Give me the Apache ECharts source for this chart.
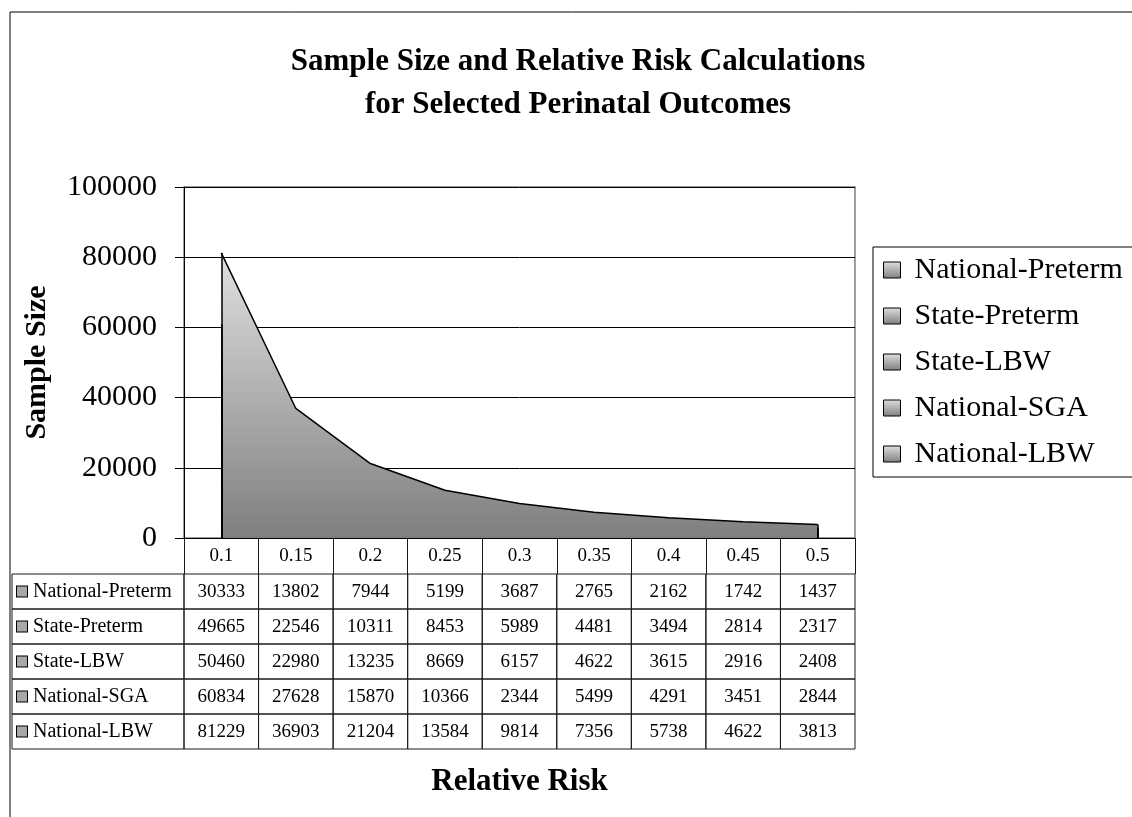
<!DOCTYPE html>
<html>
<head>
<meta charset="utf-8">
<title>Sample Size and Relative Risk Calculations</title>
<script src="https://cdn.jsdelivr.net/npm/echarts@6/dist/echarts.min.js"></script>
<style>
  html, body { margin: 0; padding: 0; background: #fff; }
  #chart { width: 1132px; height: 817px; }
</style>
</head>
<body>
<div id="chart"></div>
<script>
// Relative risk values (x categories)
const categories = ['0.1', '0.15', '0.2', '0.25', '0.3', '0.35', '0.4', '0.45', '0.5'];

// Required sample sizes per outcome
const nationalPreterm = [30333, 13802, 7944, 5199, 3687, 2765, 2162, 1742, 1437];
const statePreterm    = [49665, 22546, 10311, 8453, 5989, 4481, 3494, 2814, 2317];
const stateLBW        = [50460, 22980, 13235, 8669, 6157, 4622, 3615, 2916, 2408];
const nationalSGA     = [60834, 27628, 15870, 10366, 2344, 5499, 4291, 3451, 2844];
const nationalLBW     = [81229, 36903, 21204, 13584, 9814, 7356, 5738, 4622, 3813];

const seriesNames = ['National-Preterm', 'State-Preterm', 'State-LBW', 'National-SGA', 'National-LBW'];
const seriesValues = [nationalPreterm, statePreterm, stateLBW, nationalSGA, nationalLBW];

// Value axis ticks
const yMin = 0;
const yMax = 100000;
const yStep = 20000;

const FONT = '"Liberation Serif", "Times New Roman", serif';

const chart = echarts.init(document.getElementById('chart'), null, { renderer: 'canvas' });

function grayFill() {
  return new echarts.graphic.LinearGradient(0, 0, 0, 1, [
    { offset: 0, color: '#e0e0e0' },
    { offset: 1, color: '#7f7f7f' }
  ]);
}

// One area per outcome, each layered above the previous one
const areaSeries = seriesNames.map((name, i) => {
  const vals = seriesValues[i];
  const last = categories.length - 1;
  return {
    name: name,
    type: 'line',
    z: 2 + i,
    xAxisIndex: 0,
    yAxisIndex: 0,
    data: vals,
    symbol: 'none',
    smooth: false,
    lineStyle: { color: '#000', width: 1.5 },
    itemStyle: { color: '#999' },
    areaStyle: { color: grayFill(), opacity: 1 },
    // close the polygon outline with its vertical end edges
    markLine: {
      silent: true,
      symbol: 'none',
      z: 20,
      label: { show: false },
      lineStyle: { color: '#000', width: 1.5, type: 'solid' },
      data: [
        [{ coord: [categories[0], 0] }, { coord: [categories[0], vals[0]] }],
        [{ coord: [categories[last], 0] }, { coord: [categories[last], vals[last]] }]
      ]
    }
  };
});

// Data table cells: [column, row, value]
const tableData = [];
seriesValues.forEach((vals, row) => {
  vals.forEach((v, col) => tableData.push([col, row, v]));
});

const TABLE_LEFT_EDGE = 12;

const tableSeries = {
  name: 'table',
  type: 'custom',
  coordinateSystem: 'cartesian2d',
  xAxisIndex: 1,
  yAxisIndex: 1,
  silent: true,
  data: tableData,
  renderItem: function (params, api) {
    const col = api.value(0);
    const row = api.value(1);
    const c = api.coord([col, row]);
    const s = api.size([1, 1]);
    const x = c[0] - s[0] / 2;
    const y = c[1] - s[1] / 2;
    const children = [
      {
        type: 'rect',
        shape: { x: x, y: y, width: s[0], height: s[1] },
        style: { fill: 'none', stroke: '#1a1a1a', lineWidth: 1 }
      },
      {
        type: 'text',
        style: {
          text: String(api.value(2)),
          x: c[0], y: c[1] + 1,
          align: 'center', verticalAlign: 'middle',
          font: '19px ' + FONT,
          fill: '#000'
        }
      }
    ];
    if (col === 0) {
      children.push({
        type: 'rect',
        shape: { x: TABLE_LEFT_EDGE, y: y, width: x - TABLE_LEFT_EDGE, height: s[1] },
        style: { fill: 'none', stroke: '#1a1a1a', lineWidth: 1 }
      });
    }
    return { type: 'group', children: children };
  }
};

const option = {
  backgroundColor: '#fff',
  animation: false,
  textStyle: { fontFamily: FONT, color: '#000' },
  title: {
    text: 'Sample Size and Relative Risk Calculations\nfor Selected Perinatal Outcomes',
    left: 578,
    top: 40,
    padding: 0,
    textAlign: 'center',
    textStyle: {
      fontFamily: FONT,
      fontSize: 31,
      fontWeight: 'bold',
      color: '#000',
      lineHeight: 43
    }
  },
  legend: {
    data: seriesNames,
    orient: 'vertical',
    left: 873,
    top: 247,
    padding: [8, 40, 8, 10],
    itemGap: 16,
    itemWidth: 17,
    itemHeight: 16,
    icon: 'rect',
    borderColor: '#000',
    borderWidth: 1,
    backgroundColor: '#fff',
    itemStyle: { color: grayFill(), borderColor: '#000', borderWidth: 1 },
    textStyle: { fontFamily: FONT, fontSize: 30, color: '#000', padding: [0, 0, 0, 9] }
  },
  graphic: [
    {
      type: 'rect',
      z: -10,
      silent: true,
      shape: { x: 10, y: 12, width: 1300, height: 1000 },
      style: { fill: 'none', stroke: '#000', lineWidth: 1 }
    }
  ],
  grid: [
    { left: 184, right: 277, top: 187, height: 351, show: true, borderColor: '#808080', borderWidth: 1.5, backgroundColor: 'transparent' },
    { left: 184, right: 277, top: 574, height: 175 }
  ],
  xAxis: [
    {
      type: 'category',
      gridIndex: 0,
      data: categories,
      boundaryGap: true,
      axisLine: { show: true, lineStyle: { color: '#000', width: 1 } },
      axisTick: { show: true, length: 36, inside: false, lineStyle: { color: '#1a1a1a', width: 1 } },
      axisLabel: { color: '#000', fontFamily: FONT, fontSize: 19, margin: 9 },
      splitLine: { show: false }
    },
    {
      type: 'category',
      gridIndex: 1,
      data: categories,
      boundaryGap: true,
      axisLine: { show: false },
      axisTick: { show: false },
      axisLabel: { show: false },
      splitLine: { show: false },
      name: 'Relative Risk',
      nameLocation: 'middle',
      nameGap: 17,
      nameTextStyle: { fontFamily: FONT, fontSize: 31, fontWeight: 'bold', color: '#000' }
    }
  ],
  yAxis: [
    {
      type: 'value',
      gridIndex: 0,
      min: yMin,
      max: yMax,
      interval: yStep,
      axisLine: { show: true, lineStyle: { color: '#000', width: 1 } },
      axisTick: { show: true, length: 9, inside: false, lineStyle: { color: '#000' } },
      axisLabel: {
        color: '#000', fontFamily: FONT, fontSize: 30, margin: 27,
        formatter: function (v) { return String(v); }
      },
      splitLine: { show: true, lineStyle: { color: '#000', width: 1 } },
      name: 'Sample Size',
      nameLocation: 'middle',
      nameGap: 132,
      nameTextStyle: { fontFamily: FONT, fontSize: 30, fontWeight: 'bold', color: '#000' }
    },
    {
      type: 'category',
      gridIndex: 1,
      data: seriesNames,
      inverse: true,
      axisLine: { show: false },
      axisTick: { show: false },
      splitLine: { show: false },
      axisLabel: {
        show: true,
        align: 'left',
        margin: 167,
        formatter: function (v) { return '{i|}{t|' + v + '}'; },
        rich: {
          i: { width: 10, height: 10, backgroundColor: '#a8a8a8', borderColor: '#000', borderWidth: 1 },
          t: { fontFamily: FONT, fontSize: 20, color: '#000', padding: [0, 0, 0, 6] }
        }
      }
    }
  ],
  series: areaSeries.concat([tableSeries])
};

chart.setOption(option);
</script>
</body>
</html>
